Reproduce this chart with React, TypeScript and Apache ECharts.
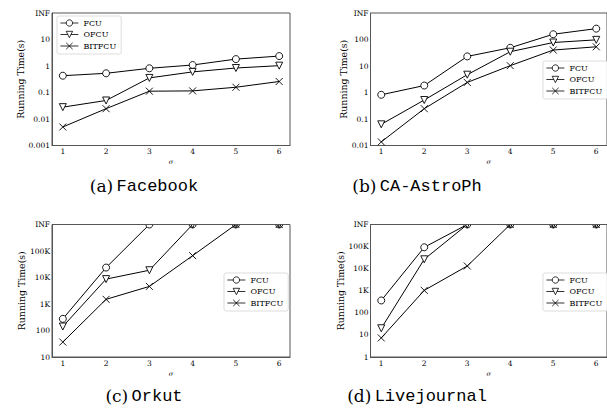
import React, { useEffect, useRef } from "react";
import * as echarts from "echarts";

const sigma = [1, 2, 3, 4, 5, 6];
const seriesNames = ["FCU", "OFCU", "BITFCU"];

// (a) Facebook
const fbInf = 100;
const fbFCU = [0.43, 0.53, 0.82, 1.09, 1.82, 2.37];
const fbOFCU = [0.028, 0.05, 0.355, 0.6, 0.84, 1.03];
const fbBIT = [0.005, 0.0245, 0.112, 0.115, 0.158, 0.26];
const fbTicks = [0.001, 0.01, 0.1, 1, 10, 100];
const fbTickLabels = ["0.001", "0.01", "0.1", "1", "10", "INF"];

// (b) CA-AstroPh
const apInf = 1000;
const apFCU = [0.82, 1.83, 23, 48.7, 158, 257];
const apOFCU = [0.063, 0.52, 4.7, 34.6, 77, 97];
const apBIT = [0.0137, 0.245, 2.4, 10.3, 40, 53];
const apTicks = [0.01, 0.1, 1, 10, 100, 1000];
const apTickLabels = ["0.01", "0.1", "1", "10", "100", "INF"];

// (c) Orkut
const okInf = 1e6;
const okFCU = [275, 23700, okInf, okInf, okInf, okInf];
const okOFCU = [141, 8700, 18800, okInf, okInf, okInf];
const okBIT = [36.6, 1500, 4600, 66800, okInf, okInf];
const okTicks = [10, 100, 1000, 10000, 100000, 1e6];
const okTickLabels = ["10", "100", "1K", "10K", "100K", "INF"];

// (d) Livejournal
const ljInf = 1e6;
const ljFCU = [363, 93000, ljInf, ljInf, ljInf, ljInf];
const ljOFCU = [20, 26600, ljInf, ljInf, ljInf, ljInf];
const ljBIT = [7.3, 1040, 13200, ljInf, ljInf, ljInf];
const ljTicks = [1, 10, 100, 1000, 10000, 100000, 1e6];
const ljTickLabels = ["1", "10", "100", "1K", "10K", "100K", "INF"];

const captions = [
  { tag: "(a)", name: "Facebook" },
  { tag: "(b)", name: "CA-AstroPh" },
  { tag: "(c)", name: "Orkut" },
  { tag: "(d)", name: "Livejournal" },
];

const SERIF = "DejaVu Serif";
const MONO = "Liberation Mono";
const crossPath = "path://M0,0L10,10M10,0L0,10";

export default function App() {
  const ref = useRef<HTMLDivElement>(null);
  useEffect(() => {
    if (!ref.current) return;
    const chart = echarts.init(ref.current, undefined, { renderer: "svg" });

    const panels = [
      { grid: { left: 52, top: 13, width: 238, height: 132.5 }, min: 0.001, max: fbInf, ticks: fbTicks, labels: fbTickLabels, data: [fbFCU, fbOFCU, fbBIT], legend: { left: 57, top: 16 } },
      { grid: { left: 370.5, top: 13, width: 236.5, height: 132.5 }, min: 0.01, max: apInf, ticks: apTicks, labels: apTickLabels, data: [apFCU, apOFCU, apBIT], legend: { left: 543, top: 61 } },
      { grid: { left: 52, top: 224.5, width: 238, height: 132.5 }, min: 10, max: okInf, ticks: okTicks, labels: okTickLabels, data: [okFCU, okOFCU, okBIT], legend: { left: 224, top: 273 } },
      { grid: { left: 370.5, top: 224.5, width: 236.5, height: 132.5 }, min: 1, max: ljInf, ticks: ljTicks, labels: ljTickLabels, data: [ljFCU, ljOFCU, ljBIT], legend: { left: 543, top: 273 } },
    ];

    const symbols = ["circle", "triangle", crossPath];
    const rotates = [0, 180, 0];
    const sizes = [7, 7, 7];

    const axisLineStyle = { color: "#555", width: 1 };

    const option: any = {
      animation: false,
      backgroundColor: "#fff",
      grid: panels.map((p) => ({ ...p.grid, containLabel: false, show: true, borderColor: "#555", borderWidth: 1, backgroundColor: "transparent" })),
      xAxis: panels.map((p, i) => ({
        type: "value",
        gridIndex: i,
        min: 0.75,
        max: 6.25,
        name: "σ",
        nameLocation: "middle",
        nameGap: 13,
        nameTextStyle: { fontFamily: SERIF, fontStyle: "italic", fontSize: 6.5, color: "#000" },
        axisLine: { show: true, lineStyle: axisLineStyle },
        axisTick: { show: false, customValues: sigma },
        splitLine: { show: false },
        axisLabel: { customValues: sigma, fontFamily: SERIF, fontSize: 7.5, color: "#000", margin: 2 },
      })),
      yAxis: panels.map((p, i) => ({
        type: "log",
        logBase: 10,
        gridIndex: i,
        min: p.min,
        max: p.max,
        name: "Running Time(s)",
        nameLocation: "middle",
        nameRotate: 90,
        nameGap: i % 2 === 0 ? 26 : 23,
        nameTextStyle: { fontFamily: SERIF, fontSize: 9.4, color: "#000" },
        axisLine: { show: true, lineStyle: axisLineStyle },
        axisTick: { show: false, customValues: p.ticks },
        splitLine: { show: false },
        minorTick: { show: false },
        axisLabel: {
          customValues: p.ticks,
          fontFamily: SERIF,
          fontSize: 7.5,
          color: "#000",
          margin: 2,
          formatter: (v: number) => {
            const idx = p.ticks.findIndex((t) => Math.abs(Math.log10(t) - Math.log10(v)) < 1e-6);
            return idx >= 0 ? p.labels[idx] : "";
          },
        },
      })),
      legend: panels.map((p) => ({
        left: p.legend.left,
        top: p.legend.top,
        orient: "vertical",
        data: seriesNames,
        itemWidth: 18,
        itemHeight: 8,
        itemGap: 3.5,
        padding: [3, 5, 4, 3],
        borderColor: "#ddd",
        borderWidth: 1,
        borderRadius: 2,
        backgroundColor: "#fff",
        itemStyle: { color: "#fff", borderColor: "#000", borderWidth: 0.8 },
        lineStyle: { color: "#000", width: 0.8 },
        textStyle: { fontFamily: SERIF, fontSize: 8, color: "#000" },
        selectedMode: false,
      })),
      series: panels.flatMap((p, i) =>
        p.data.map((vals, k) => ({
          type: "line",
          name: seriesNames[k],
          xAxisIndex: i,
          yAxisIndex: i,
          data: sigma.map((s, j) => [s, vals[j]]),
          symbol: symbols[k],
          symbolRotate: rotates[k],
          symbolSize: sizes[k],
          showAllSymbol: true,
          clip: true,
          lineStyle: { color: "#000", width: 1 },
          itemStyle: { color: "#fff", borderColor: "#000", borderWidth: 0.9 },
          emphasis: { disabled: true },
          z: 3 + k,
        }))
      ),
      graphic: [
        // white masks above the lower panels so markers at INF are cut at the frame
        { type: "rect", shape: { x: 52.5, y: 200, width: 237, height: 24 }, style: { fill: "#fff" }, z: 100 },
        { type: "rect", shape: { x: 371, y: 200, width: 236, height: 24 }, style: { fill: "#fff" }, z: 100 },
        ...captions.map((c, i) => ({
          type: "text",
          x: i % 2 === 0 ? 144 : 417,
          y: i < 2 ? 186 : 396,
          z: 101,
          style: {
            text: `{a|${c.tag}} {b|${c.name}}`,
            align: "center",
            verticalAlign: "middle",
            rich: {
              a: { fontFamily: SERIF, fontSize: 17, fill: "#000" },
              b: { fontFamily: MONO, fontSize: 17, fill: "#000" },
            },
          },
        })),
        { type: "line", shape: { x1: 52, y1: 224.5, x2: 290, y2: 224.5 }, style: { stroke: "#555", lineWidth: 1 }, z: 102 },
        { type: "line", shape: { x1: 370.5, y1: 224.5, x2: 607, y2: 224.5 }, style: { stroke: "#555", lineWidth: 1 }, z: 102 },
      ],
    };

    chart.setOption(option);
    return () => chart.dispose();
  }, []);

  return (
    <div
      ref={ref}
      style={{ position: "absolute", left: 0, top: 0, width: 607, height: 412, background: "#fff" }}
    />
  );
}
